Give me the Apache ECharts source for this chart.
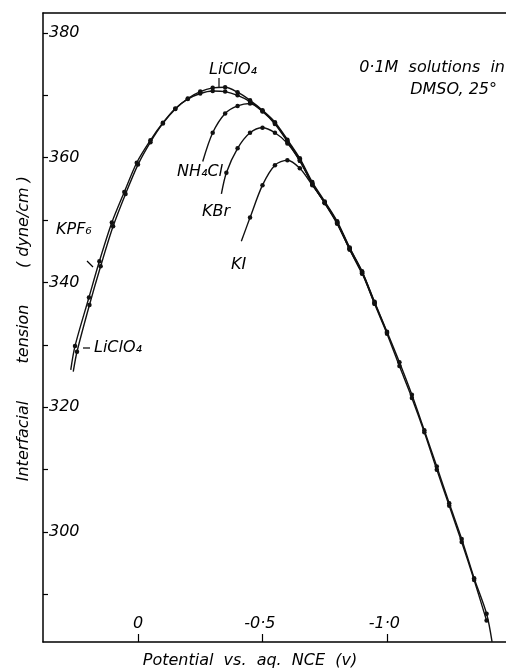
<!DOCTYPE html>
<html lang="en">
<head>
  <meta charset="UTF-8">
  <script src="https://cdn.jsdelivr.net/npm/echarts@6/dist/echarts.min.js"></script>
  <title>Electrocapillary curves</title>
</head>
<body style="margin:0">
  <div id="chart" style="width: 506px; height: 670px"></div>
  <script>
    // potentials (V vs aq. NCE) and interfacial tension (dyne/cm)
    // first point of each curve (and last of LiClO4) is just the line tail, drawn without a dot
    const liclo4X = [0.26, 0.245, 0.195, 0.15, 0.10, 0.05, 0.00, -0.05, -0.10, -0.15, -0.20, -0.25, -0.30, -0.35, -0.40, -0.45, -0.50, -0.55, -0.60, -0.65, -0.70, -0.75, -0.80, -0.85, -0.90, -0.95, -1.00, -1.05, -1.10, -1.15, -1.20, -1.25, -1.30, -1.35, -1.40, -1.422]
    const liclo4Y = [325.7, 328.9, 336.4, 342.6, 349.0, 354.2, 358.9, 362.5, 365.5, 367.8, 369.5, 370.6, 371.2, 371.3, 370.5, 369.2, 367.6, 365.7, 362.9, 359.9, 356.1, 353.0, 349.8, 345.6, 341.8, 336.9, 332.1, 327.2, 322.0, 316.3, 310.5, 304.6, 298.9, 292.6, 286.9, 282.4]
    const kpf6X = [0.27, 0.253, 0.197, 0.155, 0.105, 0.055, 0.005, -0.05, -0.10, -0.15, -0.20, -0.25, -0.30, -0.35, -0.40, -0.45, -0.50, -0.55, -0.60, -0.65, -0.70, -0.75, -0.80, -0.85, -0.90, -0.95, -1.00, -1.05, -1.10, -1.15, -1.20, -1.25, -1.30, -1.35, -1.40]
    const kpf6Y = [326.0, 329.8, 337.6, 343.4, 349.6, 354.5, 359.2, 362.8, 365.6, 367.9, 369.4, 370.3, 370.7, 370.6, 370.0, 369.0, 367.5, 365.5, 362.7, 359.7, 355.8, 352.8, 349.5, 345.3, 341.6, 336.6, 331.8, 326.6, 321.5, 316.0, 310.0, 304.2, 298.4, 292.3, 285.8]
    const nh4clX = [-0.26, -0.30, -0.35, -0.40, -0.45, -0.50, -0.55, -0.60, -0.65, -0.70, -0.75, -0.80, -0.85, -0.90]
    const nh4clY = [359.4, 364.0, 367.1, 368.3, 368.7, 367.4, 365.4, 362.6, 359.5, 355.8, 352.7, 349.4, 345.3, 341.4]
    const kbrX = [-0.335, -0.355, -0.40, -0.45, -0.50, -0.55, -0.60, -0.65, -0.70, -0.75, -0.80, -0.85, -0.90, -0.95]
    const kbrY = [354.2, 357.6, 361.5, 364.0, 364.8, 364.0, 362.3, 359.5, 355.9, 352.8, 349.6, 345.4, 341.5, 336.6]
    const kiX = [-0.415, -0.45, -0.50, -0.55, -0.60, -0.65, -0.70, -0.75, -0.80, -0.85, -0.90, -0.95, -1.00]
    const kiY = [346.6, 350.4, 355.6, 358.8, 359.6, 358.3, 355.6, 352.8, 349.6, 345.5, 341.7, 336.8, 332.0]

    const xTicks = [0, -0.5, -1.0]
    const yTicks = [290, 300, 310, 320, 330, 340, 350, 360, 370, 380]
    const yLabels = [300, 320, 340, 360, 380]

    const FONT = 'DejaVu Sans'
    const font = (size) => 'italic ' + size + 'px "' + FONT + '"'

    function buildData(xs, ys, tailEnd) {
      const out = []
      for (let i = 0; i < xs.length; i++) {
        const item = { value: [xs[i], ys[i]] }
        if (i === 0 || (tailEnd && i === xs.length - 1)) item.symbol = 'none'
        out.push(item)
      }
      return out
    }

    function curve(name, xs, ys, tailEnd) {
      return {
        name: name,
        type: 'line',
        smooth: 0.3,
        symbol: 'circle',
        symbolSize: 4.5,
        lineStyle: { color: '#111', width: 1.4 },
        itemStyle: { color: '#111' },
        data: buildData(xs, ys, tailEnd)
      }
    }

    const chart = echarts.init(document.getElementById('chart'))
    const xMin = -1.478, xMax = 0.3815

    chart.setOption({
      animation: false,
      backgroundColor: '#fff',
      grid: { left: 43, right: 0, top: 13, bottom: 28 },
      xAxis: [
        {
          type: 'value',
          inverse: true,
          min: xMin,
          max: xMax,
          position: 'bottom',
          axisLine: { show: true, onZero: false, lineStyle: { color: '#000', width: 1.5 } },
          axisTick: { show: true, inside: true, length: 8, customValues: xTicks, lineStyle: { color: '#000', width: 1.2 } },
          axisLabel: {
            inside: true,
            margin: 10,
            customValues: xTicks,
            color: '#000',
            fontSize: 16,
            fontStyle: 'italic',
            fontFamily: FONT,
            formatter: (v) => v === 0 ? '0' : v.toFixed(1).replace('.', '·') + ' '
          },
          splitLine: { show: false }
        },
        {
          type: 'value',
          inverse: true,
          min: xMin,
          max: xMax,
          position: 'top',
          axisLine: { show: true, onZero: false, lineStyle: { color: '#000', width: 1.5 } },
          axisTick: { show: false },
          axisLabel: { show: false },
          splitLine: { show: false }
        }
      ],
      yAxis: {
        type: 'value',
        min: 282.37,
        max: 383.2,
        axisLine: { show: true, onZero: false, lineStyle: { color: '#000', width: 1.5 } },
        axisTick: { show: true, inside: true, length: 5, customValues: yTicks, lineStyle: { color: '#000', width: 1.2 } },
        axisLabel: {
          inside: true,
          margin: 6,
          customValues: yLabels,
          color: '#000',
          fontSize: 16,
          fontStyle: 'italic',
          fontFamily: FONT
        },
        splitLine: { show: false }
      },
      series: [
        curve('LiClO4', liclo4X, liclo4Y, true),
        curve('KPF6', kpf6X, kpf6Y, false),
        curve('NH4Cl', nh4clX, nh4clY, false),
        curve('KBr', kbrX, kbrY, false),
        curve('KI', kiX, kiY, false)
      ],
      graphic: [
        // axis names
        { type: 'text', x: 250, y: 661, style: { text: 'Potential  vs.  aq.  NCE  (v)', font: font(16), fill: '#000', align: 'center', verticalAlign: 'middle' } },
        { type: 'text', x: 24, y: 441, rotation: Math.PI / 2, style: { text: 'Interfacial', font: font(16), fill: '#000', align: 'center', verticalAlign: 'middle' } },
        { type: 'text', x: 24, y: 334, rotation: Math.PI / 2, style: { text: 'tension', font: font(16), fill: '#000', align: 'center', verticalAlign: 'middle' } },
        { type: 'text', x: 24, y: 222, rotation: Math.PI / 2, style: { text: '( dyne/cm )', font: font(16), fill: '#000', align: 'center', verticalAlign: 'middle' } },
        // conditions
        { type: 'text', x: 505, y: 68, style: { text: '0·1M  solutions  in', font: font(16), fill: '#000', align: 'right', verticalAlign: 'middle' } },
        { type: 'text', x: 497, y: 90, style: { text: 'DMSO, 25°', font: font(16), fill: '#000', align: 'right', verticalAlign: 'middle' } },
        // curve labels
        { type: 'text', x: 209, y: 70, style: { text: 'LiClO₄', font: font(16), fill: '#000', verticalAlign: 'middle' } },
        { type: 'line', shape: { x1: 219, y1: 78, x2: 219, y2: 87 }, style: { stroke: '#000', lineWidth: 1.2 } },
        { type: 'text', x: 177, y: 172, style: { text: 'NH₄Cl', font: font(16), fill: '#000', verticalAlign: 'middle' } },
        { type: 'text', x: 202, y: 212, style: { text: 'KBr', font: font(16), fill: '#000', verticalAlign: 'middle' } },
        { type: 'text', x: 231, y: 265, style: { text: 'KI', font: font(16), fill: '#000', verticalAlign: 'middle' } },
        { type: 'text', x: 56, y: 230, style: { text: 'KPF₆', font: font(16), fill: '#000', verticalAlign: 'middle' } },
        { type: 'line', shape: { x1: 87, y1: 261, x2: 93, y2: 267 }, style: { stroke: '#000', lineWidth: 1.2 } },
        { type: 'text', x: 94, y: 348, style: { text: 'LiClO₄', font: font(16), fill: '#000', verticalAlign: 'middle' } },
        { type: 'line', shape: { x1: 83, y1: 348, x2: 90, y2: 348 }, style: { stroke: '#000', lineWidth: 1.2 } }
      ]
    })
  </script>
</body>
</html>
